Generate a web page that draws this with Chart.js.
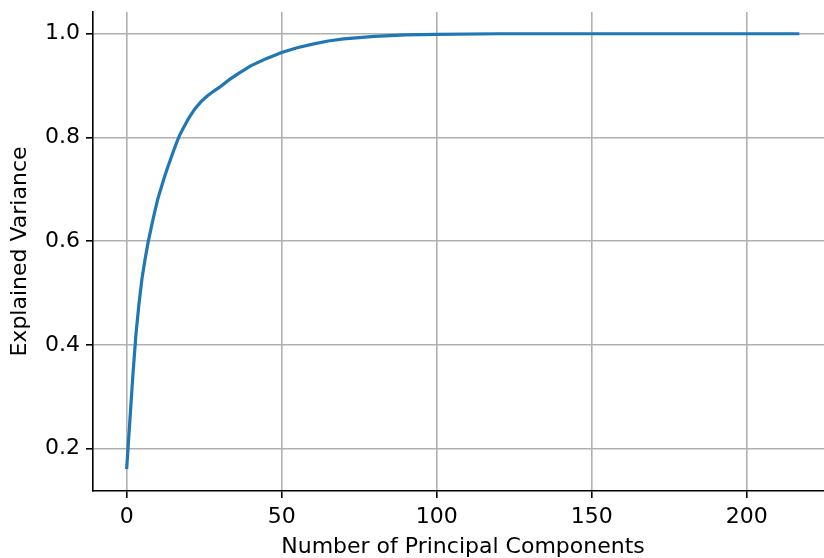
<!DOCTYPE html>
<html>
<head>
<meta charset="utf-8">
<script src="https://cdn.jsdelivr.net/npm/chart.js@4/dist/chart.umd.min.js"></script>
<style>
  html, body { margin: 0; padding: 0; background: #fff; overflow: hidden; }
  #wrap { width: 834px; height: 558px; }
</style>
</head>
<body>
<div id="wrap"><canvas id="myChart" width="834" height="558"></canvas></div>
<script>
// Cumulative explained variance
const components = [0, 1, 2, 3, 4, 5, 6, 7, 8, 9, 10, 11, 12, 13, 14, 15, 16, 17, 18, 20,
  22, 24, 26, 28, 30, 33, 36, 40, 45, 50, 55, 60, 65, 70, 80, 90, 100, 120, 150, 180, 217];
const explained = [0.160, 0.250, 0.340, 0.420, 0.480, 0.530, 0.567, 0.600, 0.628, 0.655,
  0.680, 0.700, 0.720, 0.738, 0.755, 0.772, 0.788, 0.803, 0.815, 0.837,
  0.855, 0.869, 0.880, 0.889, 0.897, 0.911, 0.923, 0.938, 0.952, 0.964,
  0.973, 0.980, 0.986, 0.990, 0.995, 0.998, 0.999, 1.0, 1.0, 1.0, 1.0];

const xTicks = [0, 50, 100, 150, 200];
const yTicks = [0.2, 0.4, 0.6, 0.8, 1.0];

const FONT = "DejaVu Sans";

const points = components.map((c, i) => ({ x: c, y: explained[i] }));

const gridStyle = {
  color: "#b0b0b0",
  lineWidth: 1.6,
  tickColor: "#000",
  tickWidth: 1.6,
  tickLength: 7,
  drawTicks: true,
};

new Chart(document.getElementById("myChart"), {
  type: "line",
  data: {
    datasets: [
      {
        data: points,
        borderColor: "#1f77b4",
        borderWidth: 3.2,
        pointRadius: 0,
        tension: 0,
        fill: false,
      },
    ],
  },
  options: {
    responsive: false,
    animation: false,
    layout: { padding: { top: 0, right: 1, left: 0, bottom: 0 } },
    plugins: {
      legend: { display: false },
      tooltip: { enabled: false },
    },
    scales: {
      x: {
        type: "linear",
        min: -10.85,
        max: 227.85,
        grid: gridStyle,
        border: { display: true, color: "#000", width: 1.6 },
        ticks: {
          color: "#000",
          font: { family: FONT, size: 22, lineHeight: 1.1 },
          padding: 7,
          maxRotation: 0,
          callback: (v) => String(v),
        },
        afterBuildTicks: (scale) => {
          scale.ticks = xTicks.map((v) => ({ value: v }));
        },
        afterFit: (scale) => {
          scale.height = 67;
          scale.paddingLeft = 0;
          scale.paddingRight = 0;
        },
        title: {
          display: true,
          text: "Number of Principal Components",
          color: "#000",
          font: { family: FONT, size: 22, lineHeight: 1 },
          padding: { top: 0, bottom: 0 },
        },
      },
      y: {
        type: "linear",
        min: 0.118,
        max: 1.042,
        grid: gridStyle,
        border: { display: true, color: "#000", width: 1.6 },
        ticks: {
          color: "#000",
          font: { family: FONT, size: 22, lineHeight: 1.1 },
          padding: 6,
          callback: (v) => v.toFixed(1),
        },
        afterBuildTicks: (scale) => {
          scale.ticks = yTicks.map((v) => ({ value: v }));
        },
        afterFit: (scale) => {
          scale.width = 93;
          scale.paddingTop = 12;
          scale.paddingBottom = 0;
        },
        title: {
          display: true,
          text: "Explained Variance",
          color: "#000",
          font: { family: FONT, size: 22, lineHeight: 1 },
          padding: { top: 9, bottom: 0 },
        },
      },
    },
  },
});
</script>
</body>
</html>
